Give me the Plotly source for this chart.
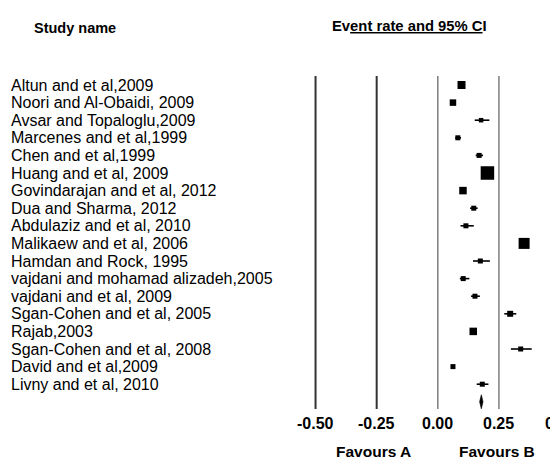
import plotly.graph_objects as go

studies = [
    "Altun and et al,2009",
    "Noori and Al-Obaidi, 2009",
    "Avsar and Topaloglu,2009",
    "Marcenes and et al,1999",
    "Chen and et al,1999",
    "Huang and et al, 2009",
    "Govindarajan and et al, 2012",
    "Dua and Sharma, 2012",
    "Abdulaziz and et al, 2010",
    "Malikaew and et al, 2006",
    "Hamdan and Rock, 1995",
    "vajdani and mohamad alizadeh,2005",
    "vajdani and et al, 2009",
    "Sgan-Cohen and et al, 2005",
    "Rajab,2003",
    "Sgan-Cohen and et al, 2008",
    "David and et al,2009",
    "Livny and et al, 2010",
]
rate = [0.097, 0.062, 0.177, 0.082, 0.169, 0.203, 0.103, 0.147, 0.115, 0.353,
        0.174, 0.104, 0.152, 0.296, 0.145, 0.339, 0.062, 0.182]
lower = [0.090, 0.056, 0.151, 0.071, 0.155, 0.195, 0.096, 0.132, 0.093, 0.345,
         0.144, 0.090, 0.136, 0.272, 0.139, 0.299, 0.056, 0.159]
upper = [0.104, 0.068, 0.211, 0.095, 0.185, 0.211, 0.110, 0.163, 0.147, 0.361,
         0.213, 0.129, 0.172, 0.321, 0.151, 0.384, 0.068, 0.207]
weight = [8, 6.5, 4.5, 5, 5, 13.5, 7.5, 5, 5, 11, 5, 5, 5, 6, 7.5, 5, 5, 5]
summary = {"rate": 0.178, "lower": 0.171, "upper": 0.185}
ticks = [-0.50, -0.25, 0.00, 0.25, 0.50]
tick_labels = ["-0.50", "-0.25", "0.00", "0.25", "0.50"]

# The page body has an 8px margin; the figure is drawn 8px smaller and all
# pixel positions below (taken from the 558x460 reference) are shifted by it.
OFF = 8
W, H = 558 - OFF, 460 - OFF


def px(v):
    return v - OFF


def fx(p):  # reference x pixel -> paper x
    return px(p) / W


def fy(p):  # reference y pixel -> paper y
    return (H - px(p)) / H


# axis mapping in reference pixels: p = zero + scale*v ; plot area p 290..558
scale, zero = 244.5, 437.8
x0 = (290 - zero) / scale
x1 = (558 - zero) / scale
rows = list(range(len(studies)))
sum_row = len(studies)


def xpaper(v):  # axis value -> paper x (also valid past the visible range)
    d0 = fx(290)
    return d0 + (v - x0) / (x1 - x0) * (1 - d0)


fig = go.Figure()
fig.add_trace(go.Scatter(
    x=rate, y=rows, mode="markers",
    marker=dict(symbol="square", size=weight, color="black", opacity=1,
                line=dict(width=0)),
    error_x=dict(type="data", symmetric=False,
                 array=[u - r for u, r in zip(upper, rate)],
                 arrayminus=[r - l for r, l in zip(rate, lower)],
                 width=0, thickness=1.6, color="black"),
    hoverinfo="skip", showlegend=False, cliponaxis=False,
))
fig.add_trace(go.Scatter(
    x=[summary["lower"], summary["rate"], summary["upper"], summary["rate"], summary["lower"]],
    y=[sum_row, sum_row - 0.4, sum_row, sum_row + 0.4, sum_row],
    mode="lines", fill="toself", fillcolor="black",
    line=dict(color="black", width=0.6), hoverinfo="skip", showlegend=False,
))

shapes = []
for t in ticks:
    if t > x1:
        continue
    dark = t < 0
    shapes.append(dict(type="line", xref="x", yref="paper", x0=t, x1=t,
                       y0=fy(409), y1=fy(76),
                       line=dict(color="#333333" if dark else "#858585",
                                 width=2 if dark else 1.6)))

FONT = "Liberation Sans, Arial"
ann = []
for i, s in enumerate(studies):
    ann.append(dict(text=s, xref="paper", yref="y", x=fx(9), y=i,
                    xanchor="left", yanchor="middle", showarrow=False,
                    font=dict(family=FONT, size=16, color="black")))
for t, lab in zip(ticks, tick_labels):
    ann.append(dict(text="<b>" + lab + "</b>", xref="paper", yref="paper", x=xpaper(t),
                    y=fy(423), xanchor="center", yanchor="middle",
                    showarrow=False, font=dict(family=FONT, size=16, color="black")))
ann.append(dict(text="<b>Study name</b>", xref="paper", yref="paper", x=fx(32),
                y=fy(28), xanchor="left", yanchor="middle", showarrow=False,
                font=dict(family=FONT, size=14.5, color="black")))
ann.append(dict(text="<b>Ev<u>ent rate and 95% C</u>I</b>", xref="paper", yref="paper",
                x=fx(330), y=fy(26), xanchor="left", yanchor="middle",
                showarrow=False, font=dict(family=FONT, size=14.8, color="black")))
ann.append(dict(text="<b>Favours A</b>", xref="paper", yref="paper", x=fx(373),
                y=fy(451.5), xanchor="center", yanchor="middle", showarrow=False,
                font=dict(family=FONT, size=15.5, color="black")))
ann.append(dict(text="<b>Favours B</b>", xref="paper", yref="paper", x=fx(497),
                y=fy(451.5), xanchor="center", yanchor="middle", showarrow=False,
                font=dict(family=FONT, size=15.5, color="black")))

y_top_px, y_bot_px = 76, 409
row0_px, row_step = 85, 17.6
y_hi = (y_bot_px - row0_px) / row_step
y_lo = (y_top_px - row0_px) / row_step

fig.update_layout(
    width=W, height=H,
    margin=dict(l=0, r=0, t=0, b=0),
    paper_bgcolor="white", plot_bgcolor="white",
    xaxis=dict(domain=[fx(290), 1], range=[x0, x1], visible=False),
    yaxis=dict(domain=[fy(y_bot_px), fy(y_top_px)], range=[y_hi, y_lo], visible=False),
    shapes=shapes, annotations=ann,
)
fig.write_html("out.html")
